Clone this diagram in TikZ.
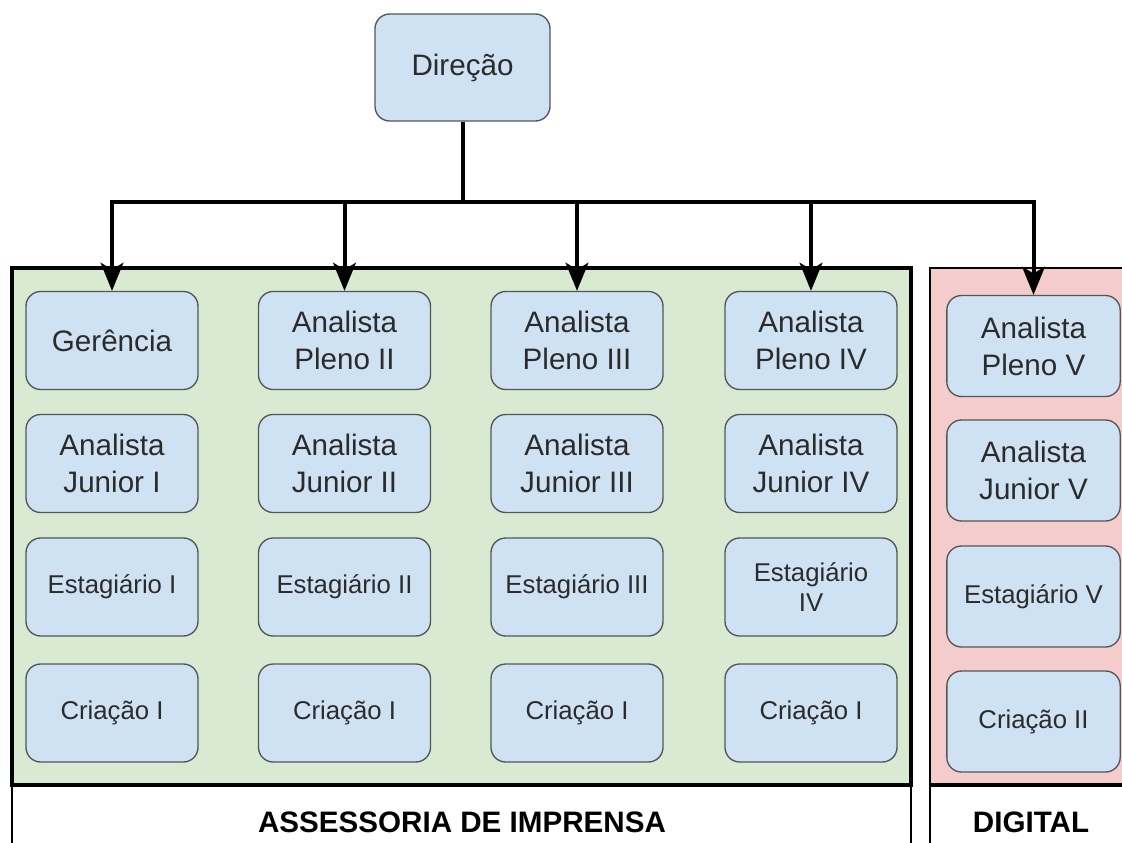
\documentclass[tikz,border=0pt]{standalone}
\usepackage{fontspec}
\setmainfont{Liberation Sans}
\usetikzlibrary{arrows.meta}

\definecolor{boxblue}{HTML}{CFE2F3}
\definecolor{boxedge}{HTML}{555555}
\definecolor{greenbg}{HTML}{D9EAD3}
\definecolor{pinkbg}{HTML}{F4CCCC}
\definecolor{roletext}{HTML}{2B2B2B}

\tikzset{
  role/.style={draw=boxedge, line width=1pt, fill=boxblue, rounded corners=11pt,
    minimum width=129pt, minimum height=73.5pt, inner sep=0pt, align=center,
    text=roletext, font=\fontsize{22.2}{27.75}\selectfont},
  rolesmall/.style={role, font=\fontsize{19.3}{23.2}\selectfont},
  digitalrole/.style={minimum width=130pt, minimum height=75.75pt},
  trunk/.style={line width=3pt},
  link/.style={line width=3pt, -{Stealth[length=21pt,width=17pt,inset=5pt]}},
  sectionlabel/.style={font=\fontsize{22.2}{26}\selectfont\bfseries, text=black, inner sep=0pt}
}

\begin{document}
\begin{tikzpicture}[x=0.75pt, y=-0.75pt]
  \useasboundingbox (0,0) rectangle (1122,843);
  \clip (0,0) rectangle (1122,843);

  % section label panels
  \draw[line width=1.6pt, fill=white] (12,785) rectangle (911,900);
  \draw[line width=1.6pt, fill=white] (930,785) rectangle (1140,900);

  % section panels
  \draw[line width=3.5pt, fill=greenbg] (12,268) rectangle (911,785);
  \draw[line width=2pt, fill=pinkbg] (930,268) rectangle (1140,785);
  \draw[line width=3.2pt] (930,785) -- (1140,785);

  \node[sectionlabel] (assessoria) at (462,822) {ASSESSORIA DE IMPRENSA};
  \node[sectionlabel] (digital) at (1031,822) {DIGITAL};

  % top of the hierarchy
  \node[role, minimum width=131.25pt, minimum height=80.25pt] (dir) at (462.5,67.5) {Direção};

  % Assessoria de Imprensa
  \node[role] (g1) at (112,340.5) {Gerência};
  \node[role] (p2) at (344.5,340.5) {Analista\\Pleno II};
  \node[role] (p3) at (577,340.5) {Analista\\Pleno III};
  \node[role] (p4) at (811,340.5) {Analista\\Pleno IV};

  \node[role] (j1) at (112,463.5) {Analista\\Junior I};
  \node[role] (j2) at (344.5,463.5) {Analista\\Junior II};
  \node[role] (j3) at (577,463.5) {Analista\\Junior III};
  \node[role] (j4) at (811,463.5) {Analista\\Junior IV};

  \node[rolesmall] (e1) at (112,587) {Estagiário I};
  \node[rolesmall] (e2) at (344.5,587) {Estagiário II};
  \node[rolesmall] (e3) at (577,587) {Estagiário III};
  \node[rolesmall] (e4) at (811,587) {Estagiário\\IV};

  \node[rolesmall] (c1) at (112,713) {Criação I};
  \node[rolesmall] (c2) at (344.5,713) {Criação I};
  \node[rolesmall] (c3) at (577,713) {Criação I};
  \node[rolesmall] (c4) at (811,713) {Criação I};

  % Digital
  \node[role, digitalrole] (d1) at (1033.5,346) {Analista\\Pleno V};
  \node[role, digitalrole] (d2) at (1033.5,470.5) {Analista\\Junior V};
  \node[rolesmall, digitalrole] (d3) at (1033.5,596.5) {Estagiário V};
  \node[rolesmall, digitalrole] (d4) at (1033.5,721.5) {Criação II};

  % connectors
  \coordinate (bus) at (462.5,202);
  \draw[trunk] (dir.south) -- (bus);
  \foreach \child in {g1,p2,p3,p4,d1}
    \draw[link] (bus) -| (\child.north);
\end{tikzpicture}
\end{document}
